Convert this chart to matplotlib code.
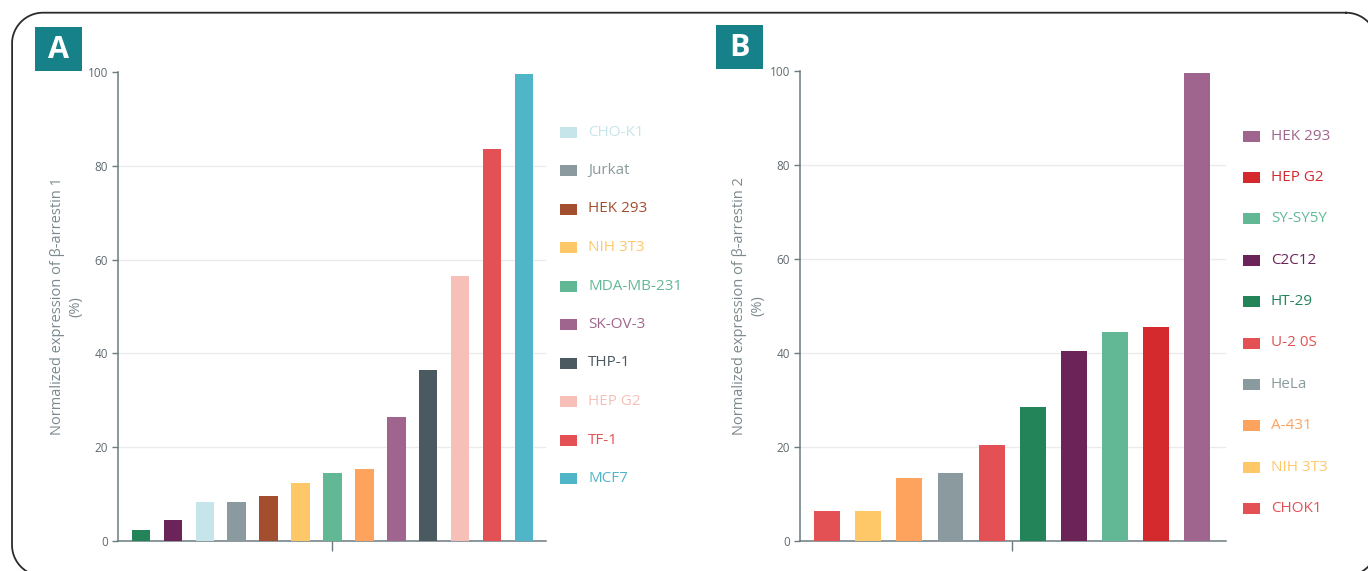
import numpy as np
import matplotlib.pyplot as plt
from matplotlib.patches import Rectangle

plt.rcParams['font.family'] = ['Open Sans', 'DejaVu Sans']

# Colours
DKGREEN = "#23845A"
DKPURPLE = "#6B2358"
LTCYAN = "#C6E5EA"
GRAY = "#8A9A9E"
BROWN = "#A34E2E"
YELLOW = "#FEC868"
GREEN = "#62B895"
ORANGE = "#FDA35E"
PURPLE = "#A0658E"
SLATE = "#4A5A60"
PINK = "#F6C0B8"
RED = "#E45155"
CYAN = "#4FB5C7"
CRIMSON = "#D42A2E"
TEAL = "#17818A"

# Panel A: beta-arrestin 1
values_a = [2.3, 4.5, 8.3, 8.3, 9.6, 12.4, 14.5, 15.4, 26.4, 36.5, 56.5, 83.6, 99.6]
colors_a = [DKGREEN, DKPURPLE, LTCYAN, GRAY, BROWN, YELLOW, GREEN, ORANGE,
            PURPLE, SLATE, PINK, RED, CYAN]
legend_a = ["CHO-K1", "Jurkat", "HEK 293", "NIH 3T3", "MDA-MB-231",
            "SK-OV-3", "THP-1", "HEP G2", "TF-1", "MCF7"]
legend_colors_a = [LTCYAN, GRAY, BROWN, YELLOW, GREEN, PURPLE, SLATE, PINK, RED, CYAN]

# Panel B: beta-arrestin 2
values_b = [6.4, 6.4, 13.4, 14.5, 20.4, 28.5, 40.4, 44.5, 45.5, 99.6]
colors_b = [RED, YELLOW, ORANGE, GRAY, RED, DKGREEN, DKPURPLE, GREEN, CRIMSON, PURPLE]
legend_b = ["HEK 293", "HEP G2", "SY-SY5Y", "C2C12", "HT-29",
            "U-2 0S", "HeLa", "A-431", "NIH 3T3", "CHOK1"]
legend_colors_b = [PURPLE, CRIMSON, GREEN, DKPURPLE, DKGREEN, RED, GRAY, ORANGE, YELLOW, RED]

yticks = [0, 20, 40, 60, 80, 100]

W, H = 1368, 571
fig = plt.figure(figsize=(W / 100, H / 100), dpi=100)

# background layer in pixel units (y down) for the frame, legends and letters
bg = fig.add_axes([0, 0, 1, 1])
bg.set_xlim(0, W)
bg.set_ylim(H, 0)
bg.axis("off")


def px_axes(x0, y0, x1, y1):
    # pixel box (top-left origin) -> figure axes
    return fig.add_axes([x0 / W, 1 - y1 / H, (x1 - x0) / W, (y1 - y0) / H])


def draw_panel(ax, values, colors, width, xlim, ylabel):
    x = list(range(len(values)))
    ax.bar(x, values, width=width, color=colors, zorder=3)
    ax.set_xlim(*xlim)
    ax.set_ylim(0, 100)
    ax.set_yticks(yticks)
    ax.set_yticklabels([str(t) for t in yticks], fontsize=8.5, color="#5f6b70")
    for t in yticks[1:-1]:
        ax.axhline(t, color="#ebebeb", lw=1, zorder=1)
    ax.set_xticks([(len(values) - 1) / 2])
    ax.set_xticklabels([""])
    ax.patch.set_alpha(0)
    for s in ("top", "right"):
        ax.spines[s].set_visible(False)
    for s in ("left", "bottom"):
        ax.spines[s].set_color("#6c7b80")
        ax.spines[s].set_linewidth(1.1)
    ax.tick_params(axis="y", length=4, width=1, color="#6c7b80", pad=3)
    ax.tick_params(axis="x", length=7, width=1, color="#6c7b80")
    ax.set_ylabel(ylabel, fontsize=10.5, color="#7b898e", linespacing=1.35, labelpad=3)


def draw_legend(labels, colors, x_sq, y_first, step):
    for i, (lab, c) in enumerate(zip(labels, colors)):
        yc = y_first + i * step
        bg.add_patch(Rectangle((x_sq, yc - 5.5), 17, 11, color=c, lw=0))
        bg.text(x_sq + 28, yc, lab, color=c, fontsize=11, va="center", ha="left")


def rounded_frame(x0, y0, x1, y1, r, n=40):
    # rounded rectangle as a plain polyline (y grows downward)
    pts = []
    for cx, cy, a0 in ((x1 - r, y0 + r, -90), (x1 - r, y1 - r, 0),
                       (x0 + r, y1 - r, 90), (x0 + r, y0 + r, 180)):
        ang = np.radians(np.linspace(a0, a0 + 90, n))
        pts += list(zip(cx + r * np.cos(ang), cy + r * np.sin(ang)))
    pts.append(pts[0])
    xs, ys = zip(*pts)
    bg.plot(xs, ys, color="#2b2b2b", lw=1.3, clip_on=False, solid_joinstyle="round")


ax_a = px_axes(118, 72, 546, 541)
draw_panel(ax_a, values_a, colors_a, 0.58, (-0.72, 12.69),
           "Normalized expression of β-arrestin 1\n(%)")
draw_legend(legend_a, legend_colors_a, 560, 132, 38.5)

ax_b = px_axes(800, 71, 1226, 541)
draw_panel(ax_b, values_b, colors_b, 0.63, (-0.66, 9.7),
           "Normalized expression of β-arrestin 2\n(%)")
draw_legend(legend_b, legend_colors_b, 1243, 136, 41.4)

rounded_frame(12, 12.7, 1377, 576, 31)

# panel letters
for letter, x0, y0 in (("A", 35, 27), ("B", 716, 25)):
    bg.add_patch(Rectangle((x0, y0), 47, 44, color=TEAL, lw=0))
    bg.text(x0 + 23.5, y0 + 23, letter, color="white", fontsize=22,
            fontweight="bold", ha="center", va="center")

fig.savefig("out.png", dpi=100)
